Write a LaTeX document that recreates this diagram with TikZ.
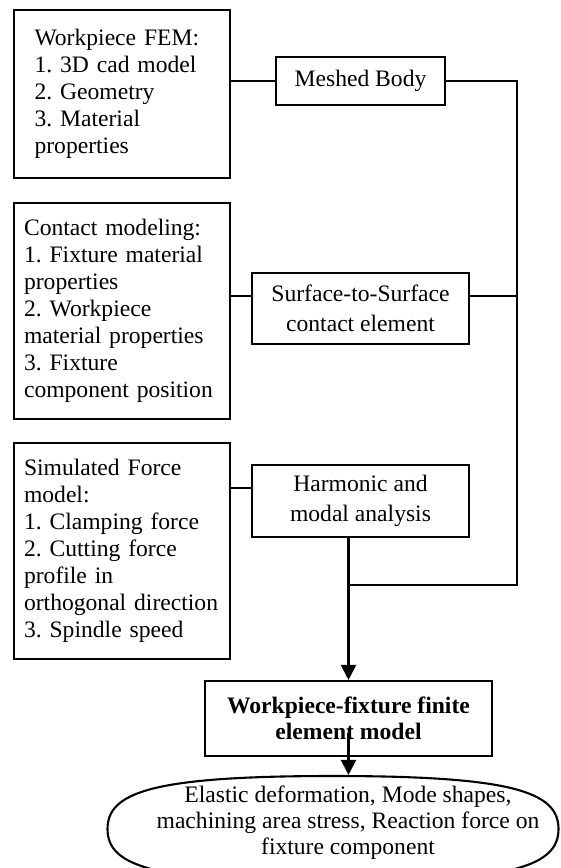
\documentclass[tikz,border=0pt]{standalone}
\usepackage{fontspec}
\setmainfont{Liberation Serif}
\usetikzlibrary{arrows.meta}
\frenchspacing

\tikzset{
  every node/.style={font=\fontsize{23.6}{27}\selectfont},
  inputbox/.style={draw, align=left, anchor=north west, inner ysep=0pt},
  stagebox/.style={draw, align=center, inner sep=0pt, font=\fontsize{23.6}{30}\selectfont},
  link/.style={-},
  flow/.style={-{Triangle[width=15pt,length=15pt]}}
}

\begin{document}
\begin{tikzpicture}[x=1pt, y=-1pt, line width=2.1pt]
\useasboundingbox (0,0) rectangle (560,868);

% inputs
\node[inputbox, text width=175pt, inner xsep=20.5pt, minimum height=168pt] (femin) at (13,9)
  {Workpiece FEM:\\1. 3D cad model\\2. Geometry\\3. Material\\properties};
\node[inputbox, text width=196pt, inner xsep=10pt, minimum height=216pt] (contactin) at (13,202)
  {Contact modeling:\\1. Fixture material\\properties\\2. Workpiece\\material properties\\3. Fixture\\component position};
\node[inputbox, text width=196pt, inner xsep=10pt, minimum height=216pt] (forcein) at (13,442)
  {Simulated Force\\model:\\1. Clamping force\\2. Cutting force\\profile in\\orthogonal direction\\3. Spindle speed};

% stages
\node[stagebox, minimum width=169pt, minimum height=48pt] (mesh) at (360.5,81) {Meshed Body};
\node[stagebox, minimum width=217pt, minimum height=71pt] (contact) at (360.5,308.5) {Surface-to-Surface\\contact element};
\node[stagebox, minimum width=217pt, minimum height=72pt] (harmonic) at (360.5,501) {Harmonic and\\modal analysis};
\node[stagebox, minimum width=287pt, minimum height=75pt, font=\fontsize{23.6}{26}\selectfont\bfseries] (model) at (348.5,718.5)
  {Workpiece-fixture finite\\element model};

% result oval, cut by the page bottom
\node[inner sep=0pt, minimum width=451pt, minimum height=106pt] (result) at (333,829) {};
\draw[shift={(result.center)}] (-225.5,0) .. controls (-225.5,-37) and (-180,-53) .. (0,-53)
  .. controls (180,-53) and (225.5,-37) .. (225.5,0)
  .. controls (225.5,37) and (180,53) .. (0,53)
  .. controls (-180,53) and (-225.5,37) .. (-225.5,0) -- cycle;
\node[align=center, font=\fontsize{23.6}{26}\selectfont] (resulttext) at (348,823)
  {Elastic deformation, Mode shapes,\\machining area stress, Reaction force on\\fixture component};

\coordinate (cin) at ([yshift=12.5pt]contact.west);
\coordinate (cout) at ([yshift=12.5pt]contact.east);
\coordinate (hin) at ([yshift=13pt]harmonic.west);
\coordinate (rail) at (517,585);
\coordinate (split) at ([yshift=-14.5pt]model.center);

\path[link]
  (femin.east |- mesh.west) edge (mesh.west)
  (contactin.east |- cin) edge (cin)
  (cout) edge (rail |- cout)
  (forcein.east |- hin) edge (hin);
\draw[link] (mesh.east) -| (rail) -- (rail -| model.north);
\path[flow]
  (harmonic.south -| model.north) edge (model.north)
  (split) edge (result.north -| split);
\end{tikzpicture}
\end{document}
